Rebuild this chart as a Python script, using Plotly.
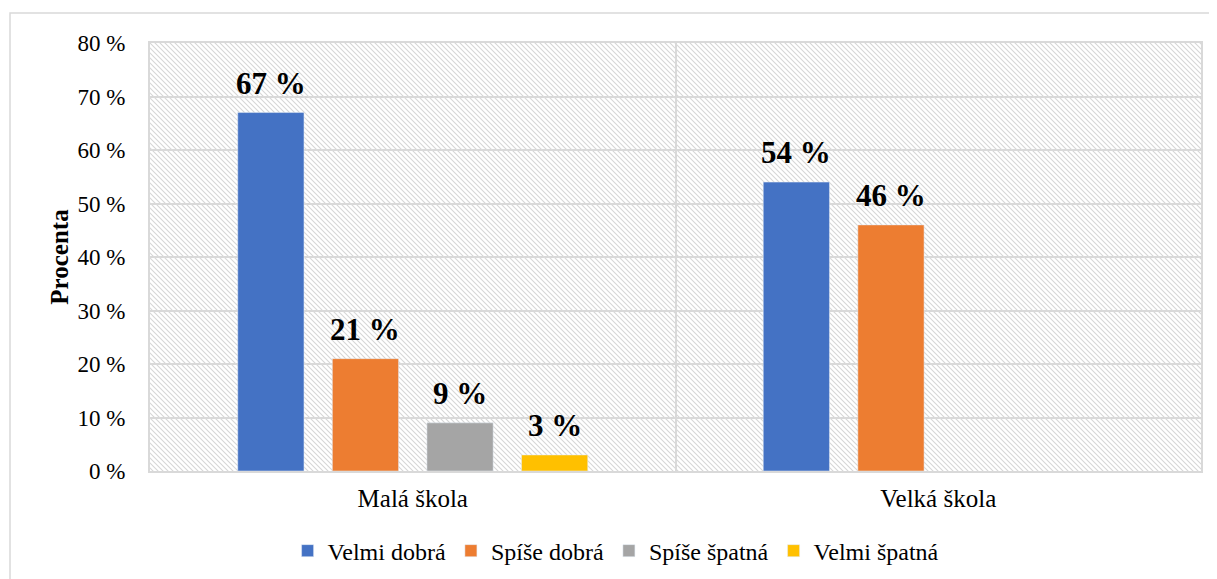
import base64
import plotly.graph_objects as go

categories = ["Malá škola", "Velká škola"]
series_names = ["Velmi dobrá", "Spíše dobrá", "Spíše špatná", "Velmi špatná"]
velmi_dobra = [67, 54]
spise_dobra = [21, 46]
spise_spatna = [9, None]
velmi_spatna = [3, None]
series_values = [velmi_dobra, spise_dobra, spise_spatna, velmi_spatna]
colors = ["#4472C4", "#ED7D31", "#A5A5A5", "#FFC000"]
y_ticks = [0, 10, 20, 30, 40, 50, 60, 70, 80]

FONT = "Liberation Serif, Times New Roman, serif"
BARGAP = 0.28
n = len(series_names)

fig = go.Figure()
annotations = []
for i, (name, vals, col) in enumerate(zip(series_names, series_values, colors)):
    fig.add_trace(go.Bar(name=name, x=categories, y=vals, marker_color=col))
    for ci, v in enumerate(vals):
        if v is None:
            continue
        annotations.append(dict(
            xref="x", yref="y", x=ci + (i - (n - 1) / 2) * (1 - BARGAP) / n, y=v,
            text=f"{v} %", showarrow=False, yanchor="bottom", yshift=10,
            font=dict(family=FONT, size=31, color="black", weight="bold"),
        ))

# hatched plot background
svg = ('<svg xmlns="http://www.w3.org/2000/svg" width="1051" height="428">'
       '<defs><pattern id="h" patternUnits="userSpaceOnUse" width="5" height="5">'
       '<path d="M-1,-1 L6,6 M-1,4 L1,6 M4,-1 L6,1" stroke="#d6d6d6" stroke-width="1.1"/>'
       '</pattern></defs><rect width="1051" height="428" fill="white"/>'
       '<rect width="1051" height="428" fill="url(#h)"/></svg>')
src = "data:image/svg+xml;base64," + base64.b64encode(svg.encode()).decode()

fig.update_layout(
    width=1209, height=571,
    margin=dict(l=142, r=16, t=35, b=108, autoexpand=False),
    paper_bgcolor="white", plot_bgcolor="white",
    barmode="group", bargap=BARGAP, bargroupgap=0.30,
    font=dict(family=FONT, color="black"),
    annotations=annotations,
    images=[dict(source=src, xref="paper", yref="paper", x=0, y=1,
                 sizex=1, sizey=1, xanchor="left", yanchor="top",
                 sizing="stretch", layer="below")],
    shapes=[dict(type="rect", xref="paper", yref="paper",
                 x0=-0.1332, x1=1.2, y0=-0.6, y1=1.0701,
                 line=dict(color="#d9d9d9", width=1.5), layer="below")],
    legend=dict(orientation="h", x=0.443, xanchor="center", y=-0.187, yanchor="middle",
                font=dict(family=FONT, size=24, color="black"),
                itemwidth=30, tracegroupgap=0, traceorder="normal"),
    showlegend=True,
)
fig.update_xaxes(
    tickson="boundaries", showgrid=True, gridcolor="#d9d9d9", gridwidth=2,
    showline=True, linecolor="#d9d9d9", linewidth=2, mirror=True,
    ticks="", ticklabelstandoff=4, tickfont=dict(family=FONT, size=25, color="black"),
)
fig.update_yaxes(
    range=[0, 80], tickvals=y_ticks, ticktext=[f"{t} %" for t in y_ticks],
    showgrid=True, gridcolor="#d9d9d9", gridwidth=2,
    showline=True, linecolor="#d9d9d9", linewidth=2, mirror=True,
    ticks="", ticklabelstandoff=18,
    tickfont=dict(family=FONT, size=23, color="black"),
    title=dict(text="<b>Procenta</b>", font=dict(family=FONT, size=25, color="black"), standoff=2),
    zeroline=False,
)

fig.write_html("out.html")
